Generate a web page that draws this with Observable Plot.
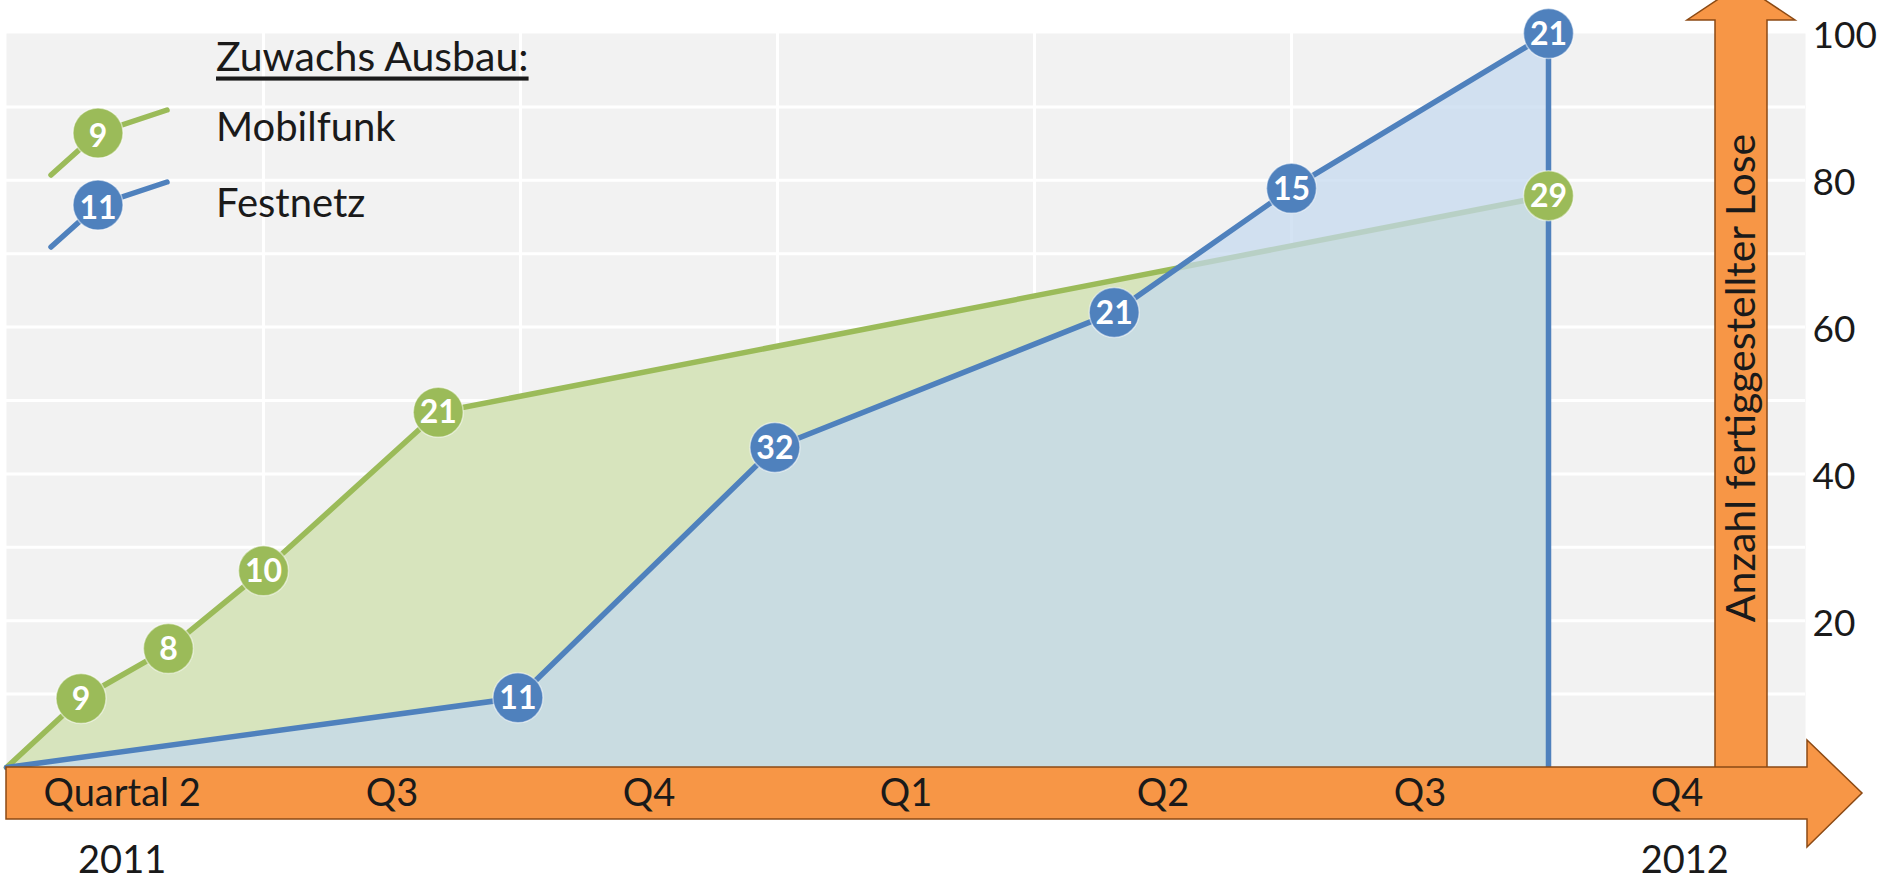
<!DOCTYPE html>
<html><head><meta charset="utf-8">
<script src="https://cdn.jsdelivr.net/npm/d3@7"></script>
<script src="https://cdn.jsdelivr.net/npm/@observablehq/plot@0.6"></script>
<style>
html,body{margin:0;padding:0;background:#fff;}
#chart svg{display:block;}
</style></head><body><div id="chart"></div>
<script>
// ---- data ----
const quarterLabels = ["Quartal 2", "Q3", "Q4", "Q1", "Q2", "Q3", "Q4"];
const quarterPos = [0.45, 1.5, 2.5, 3.5, 4.5, 5.5, 6.5];   // label centres, in quarters
const yearLabels = ["2011", "2012"];
const yearPos = [0.45, 6.53];              // position in quarters from start of Q2 2011
const seriesNames = ["Mobilfunk", "Festnetz"];
const legendTitle = "Zuwachs Ausbau:";
const yTitle = "Anzahl fertiggestellter Lose";
const yTicks = [20, 40, 60, 80, 100];

// Mobilfunk: time (quarters since start of Q2 2011), cumulative count, increment label
const mobilX = [0, 0.29, 0.63, 1.0, 1.68, 6.0];
const mobilY = [0, 9.4, 16.2, 26.8, 48.4, 77.9];
const mobilInc = [null, 9, 8, 10, 21, 29];

// Festnetz
const festX = [0, 1.99, 2.99, 4.31, 5.0, 6.0];
const festY = [0, 9.5, 43.6, 62.0, 78.9, 100];
const festInc = [null, 11, 32, 21, 15, 21];

// ---- styles ----
const GREEN = "#9bbb59", BLUE = "#4f81bd";
const GREEN_FILL = "rgb(215,228,189)", BLUE_FILL = "rgb(195,216,239)";
const ORANGE = "#f79646", ORANGE_EDGE = "#8c4a14";
const FONT = "Lato, 'Open Sans', sans-serif";

const mobil = mobilX.map((x, i) => ({x, y: mobilY[i], inc: mobilInc[i]}));
const fest = festX.map((x, i) => ({x, y: festY[i], inc: festInc[i]}));
const festLine = fest.concat([{x: festX[festX.length - 1], y: 0}]);

function arrows(index, scales, values, dims) {
  const {width, height, marginRight, marginBottom} = dims;
  const R = width - marginRight, B = height - marginBottom;
  const g = d3.create("svg:g");
  // vertical (value) arrow
  const vx0 = R - 90, vx1 = R - 38, vc = (vx0 + vx1) / 2;
  g.append("path")
    .attr("d", `M${vx0},${B + 2}V20H${vc - 54}L${vc},-16L${vc + 54},20H${vx1}V${B + 2}`)
    .attr("fill", ORANGE).attr("stroke", ORANGE_EDGE).attr("stroke-width", 1.5);
  // horizontal (time) arrow
  const hx0 = 6, hx1 = R + 2, hy0 = B, hy1 = B + 52, hc = (hy0 + hy1) / 2;
  g.append("path")
    .attr("d", `M${hx0},${hy0}H${hx1}V${hc - 53}L${hx1 + 55},${hc}L${hx1},${hc + 54}V${hy1}H${hx0}Z`)
    .attr("fill", ORANGE).attr("stroke", ORANGE_EDGE).attr("stroke-width", 1.5);
  // y-axis title on the vertical arrow
  g.append("text")
    .attr("transform", `translate(${vc - 2},${378}) rotate(-90)`)
    .attr("text-anchor", "middle").attr("dominant-baseline", "central")
    .attr("font-size", 41).attr("fill", "#1a1a1a").attr("font-family", FONT)
    .text(yTitle);
  return g.node();
}

function legend() {
  const g = d3.create("svg:g").attr("font-family", FONT).attr("text-anchor", "start");
  g.append("text").attr("x", 216).attr("y", 55).attr("dominant-baseline", "central")
    .attr("font-size", 41).attr("fill", "#1a1a1a")
    .style("text-decoration", "underline").text(legendTitle);
  const items = [
    {name: seriesNames[0], color: GREEN, label: String(mobilInc[1]), cy: 133, ty: 126},
    {name: seriesNames[1], color: BLUE, label: String(festInc[1]), cy: 205, ty: 202}
  ];
  for (const it of items) {
    g.append("polyline")
      .attr("points", `51,${it.cy + 42} 98,${it.cy} 167,${it.cy - 23}`)
      .attr("fill", "none").attr("stroke", it.color).attr("stroke-width", 5.5)
      .attr("stroke-linecap", "round");
    g.append("circle").attr("cx", 98).attr("cy", it.cy).attr("r", 25)
      .attr("fill", it.color).attr("stroke", "white").attr("stroke-opacity", 0.5).attr("stroke-width", 1.5);
    g.append("text").attr("x", 98).attr("y", it.cy + 1).attr("text-anchor", "middle")
      .attr("dominant-baseline", "central").attr("font-size", 32).attr("font-weight", "bold")
      .attr("fill", "white").text(it.label);
    g.append("text").attr("x", 216).attr("y", it.ty).attr("dominant-baseline", "central")
      .attr("font-size", 40).attr("fill", "#1a1a1a").text(it.name);
  }
  return g.node();
}

const chart = Plot.plot({
  width: 1881,
  height: 879,
  marginLeft: 6,
  marginRight: 76,
  marginTop: 33,
  marginBottom: 112,
  style: {fontFamily: FONT, background: "white", overflow: "visible"},
  x: {domain: [0, 7], axis: null},
  y: {domain: [0, 100]},
  marks: [
    Plot.frame({fill: "#f2f2f2", stroke: null}),
    Plot.gridY(d3.range(10, 100, 10), {stroke: "white", strokeOpacity: 1, strokeWidth: 3}),
    Plot.gridX(d3.range(1, 7), {stroke: "white", strokeOpacity: 1, strokeWidth: 3}),
    Plot.areaY(mobil, {x: "x", y: "y", fill: GREEN_FILL}),
    Plot.lineY(mobil, {x: "x", y: "y", stroke: GREEN, strokeWidth: 5.5}),
    Plot.areaY(fest, {x: "x", y: "y", fill: BLUE_FILL, fillOpacity: 0.72}),
    Plot.lineY(festLine, {x: "x", y: "y", stroke: BLUE, strokeWidth: 5.5}),
    arrows,
    Plot.dot(mobil.filter(d => d.inc != null), {x: "x", y: "y", r: 25, fill: GREEN, stroke: "white", strokeOpacity: 0.5, strokeWidth: 1.5}),
    Plot.text(mobil.filter(d => d.inc != null), {x: "x", y: "y", text: d => String(d.inc), fill: "white", fontWeight: "bold", fontSize: 32, dy: 1}),
    Plot.dot(fest.filter(d => d.inc != null), {x: "x", y: "y", r: 25, fill: BLUE, stroke: "white", strokeOpacity: 0.5, strokeWidth: 1.5}),
    Plot.text(fest.filter(d => d.inc != null), {x: "x", y: "y", text: d => String(d.inc), fill: "white", fontWeight: "bold", fontSize: 32, dy: 1}),
    Plot.axisY(yTicks, {anchor: "right", tickSize: 0, tickPadding: 7, fontSize: 37, label: null, fill: "#1a1a1a", dy: 3}),
    Plot.text(quarterLabels, {x: (d, i) => quarterPos[i], text: d => d, frameAnchor: "bottom", dy: 38, fontSize: 38, fill: "#1a1a1a"}),
    Plot.text(yearLabels, {x: (d, i) => yearPos[i], text: d => d, frameAnchor: "bottom", dy: 105, fontSize: 38, fill: "#1a1a1a"}),
    legend
  ]
});
document.getElementById("chart").appendChild(chart);
</script>
</body></html>
